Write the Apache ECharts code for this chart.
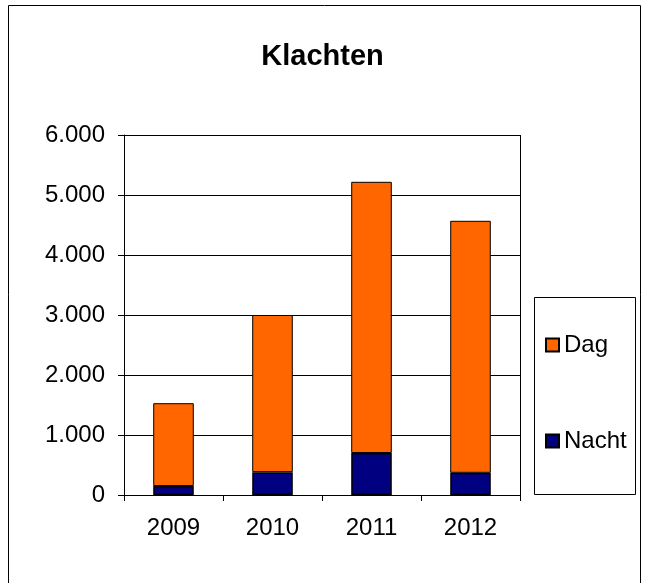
<!DOCTYPE html>
<html>
<head>
<meta charset="utf-8">
<script src="https://cdn.jsdelivr.net/npm/echarts@6/dist/echarts.min.js"></script>
<style>
  html, body { margin: 0; padding: 0; background: #fff; }
  #chart { width: 645px; height: 583px; }
</style>
</head>
<body>
<div id="chart"></div>
<script>
// jaren en klachten per dagdeel
const years = ['2009', '2010', '2011', '2012'];
const nacht = [150, 380, 700, 370];
const dag = [1380, 2620, 4520, 4200];
const yTicks = [0, 1000, 2000, 3000, 4000, 5000, 6000];

const chart = echarts.init(document.getElementById('chart'));

// 6000 -> "6.000"
function fmt(v) {
  if (v === 0) return '0';
  return String(v).replace(/\B(?=(\d{3})+(?!\d))/g, '.');
}

const font = 'Liberation Sans, Arial, sans-serif';

chart.setOption({
  animation: false,
  backgroundColor: '#fff',
  title: {
    text: 'Klachten',
    left: 'center',
    top: 37,
    textStyle: { fontFamily: font, fontSize: 29, fontWeight: 'bold', color: '#000' }
  },
  graphic: [
    // buitenrand
    { type: 'rect', shape: { x: 8.5, y: 5.5, width: 632, height: 600 },
      style: { fill: 'none', stroke: '#000', lineWidth: 1 } },
    // legendakader
    { type: 'rect', shape: { x: 534.5, y: 297.5, width: 101, height: 197 },
      style: { fill: '#fff', stroke: '#000', lineWidth: 1 }, z: 0 },
    // rechterrand plotgebied
    { type: 'line', shape: { x1: 520.5, y1: 135, x2: 520.5, y2: 495 },
      style: { stroke: '#000', lineWidth: 1 }, z: 10 }
  ],
  legend: {
    data: ['Dag', 'Nacht'],
    orient: 'vertical',
    left: 545,
    top: 333,
    icon: 'rect',
    itemWidth: 13,
    itemHeight: 13,
    itemGap: 72,
    padding: 0,
    textStyle: { fontFamily: font, fontSize: 24, color: '#000' }
  },
  grid: { left: 124, right: 125, top: 135, bottom: 88 },
  xAxis: {
    type: 'category',
    data: years,
    axisLine: { lineStyle: { color: '#000', width: 1 } },
    axisTick: { show: true, length: 6, inside: false, lineStyle: { color: '#000' } },
    axisLabel: { fontFamily: font, fontSize: 24, color: '#000', margin: 21 }
  },
  yAxis: {
    type: 'value',
    min: yTicks[0],
    max: yTicks[yTicks.length - 1],
    interval: 1000,
    axisLine: { show: true, lineStyle: { color: '#000' } },
    axisTick: { show: true, length: 6, lineStyle: { color: '#000' } },
    axisLabel: { fontFamily: font, fontSize: 24, color: '#000', margin: 19, formatter: fmt },
    splitLine: { show: true, lineStyle: { color: '#000', width: 1 } }
  },
  series: [
    {
      name: 'Nacht',
      type: 'bar',
      stack: 'k',
      data: nacht,
      barWidth: '41%',
      itemStyle: { color: '#000080', borderColor: '#000', borderWidth: 1.5 }
    },
    {
      name: 'Dag',
      type: 'bar',
      stack: 'k',
      data: dag,
      barWidth: '41%',
      itemStyle: { color: '#ff6600', borderColor: '#000', borderWidth: 1 }
    }
  ]
});
</script>
</body>
</html>
